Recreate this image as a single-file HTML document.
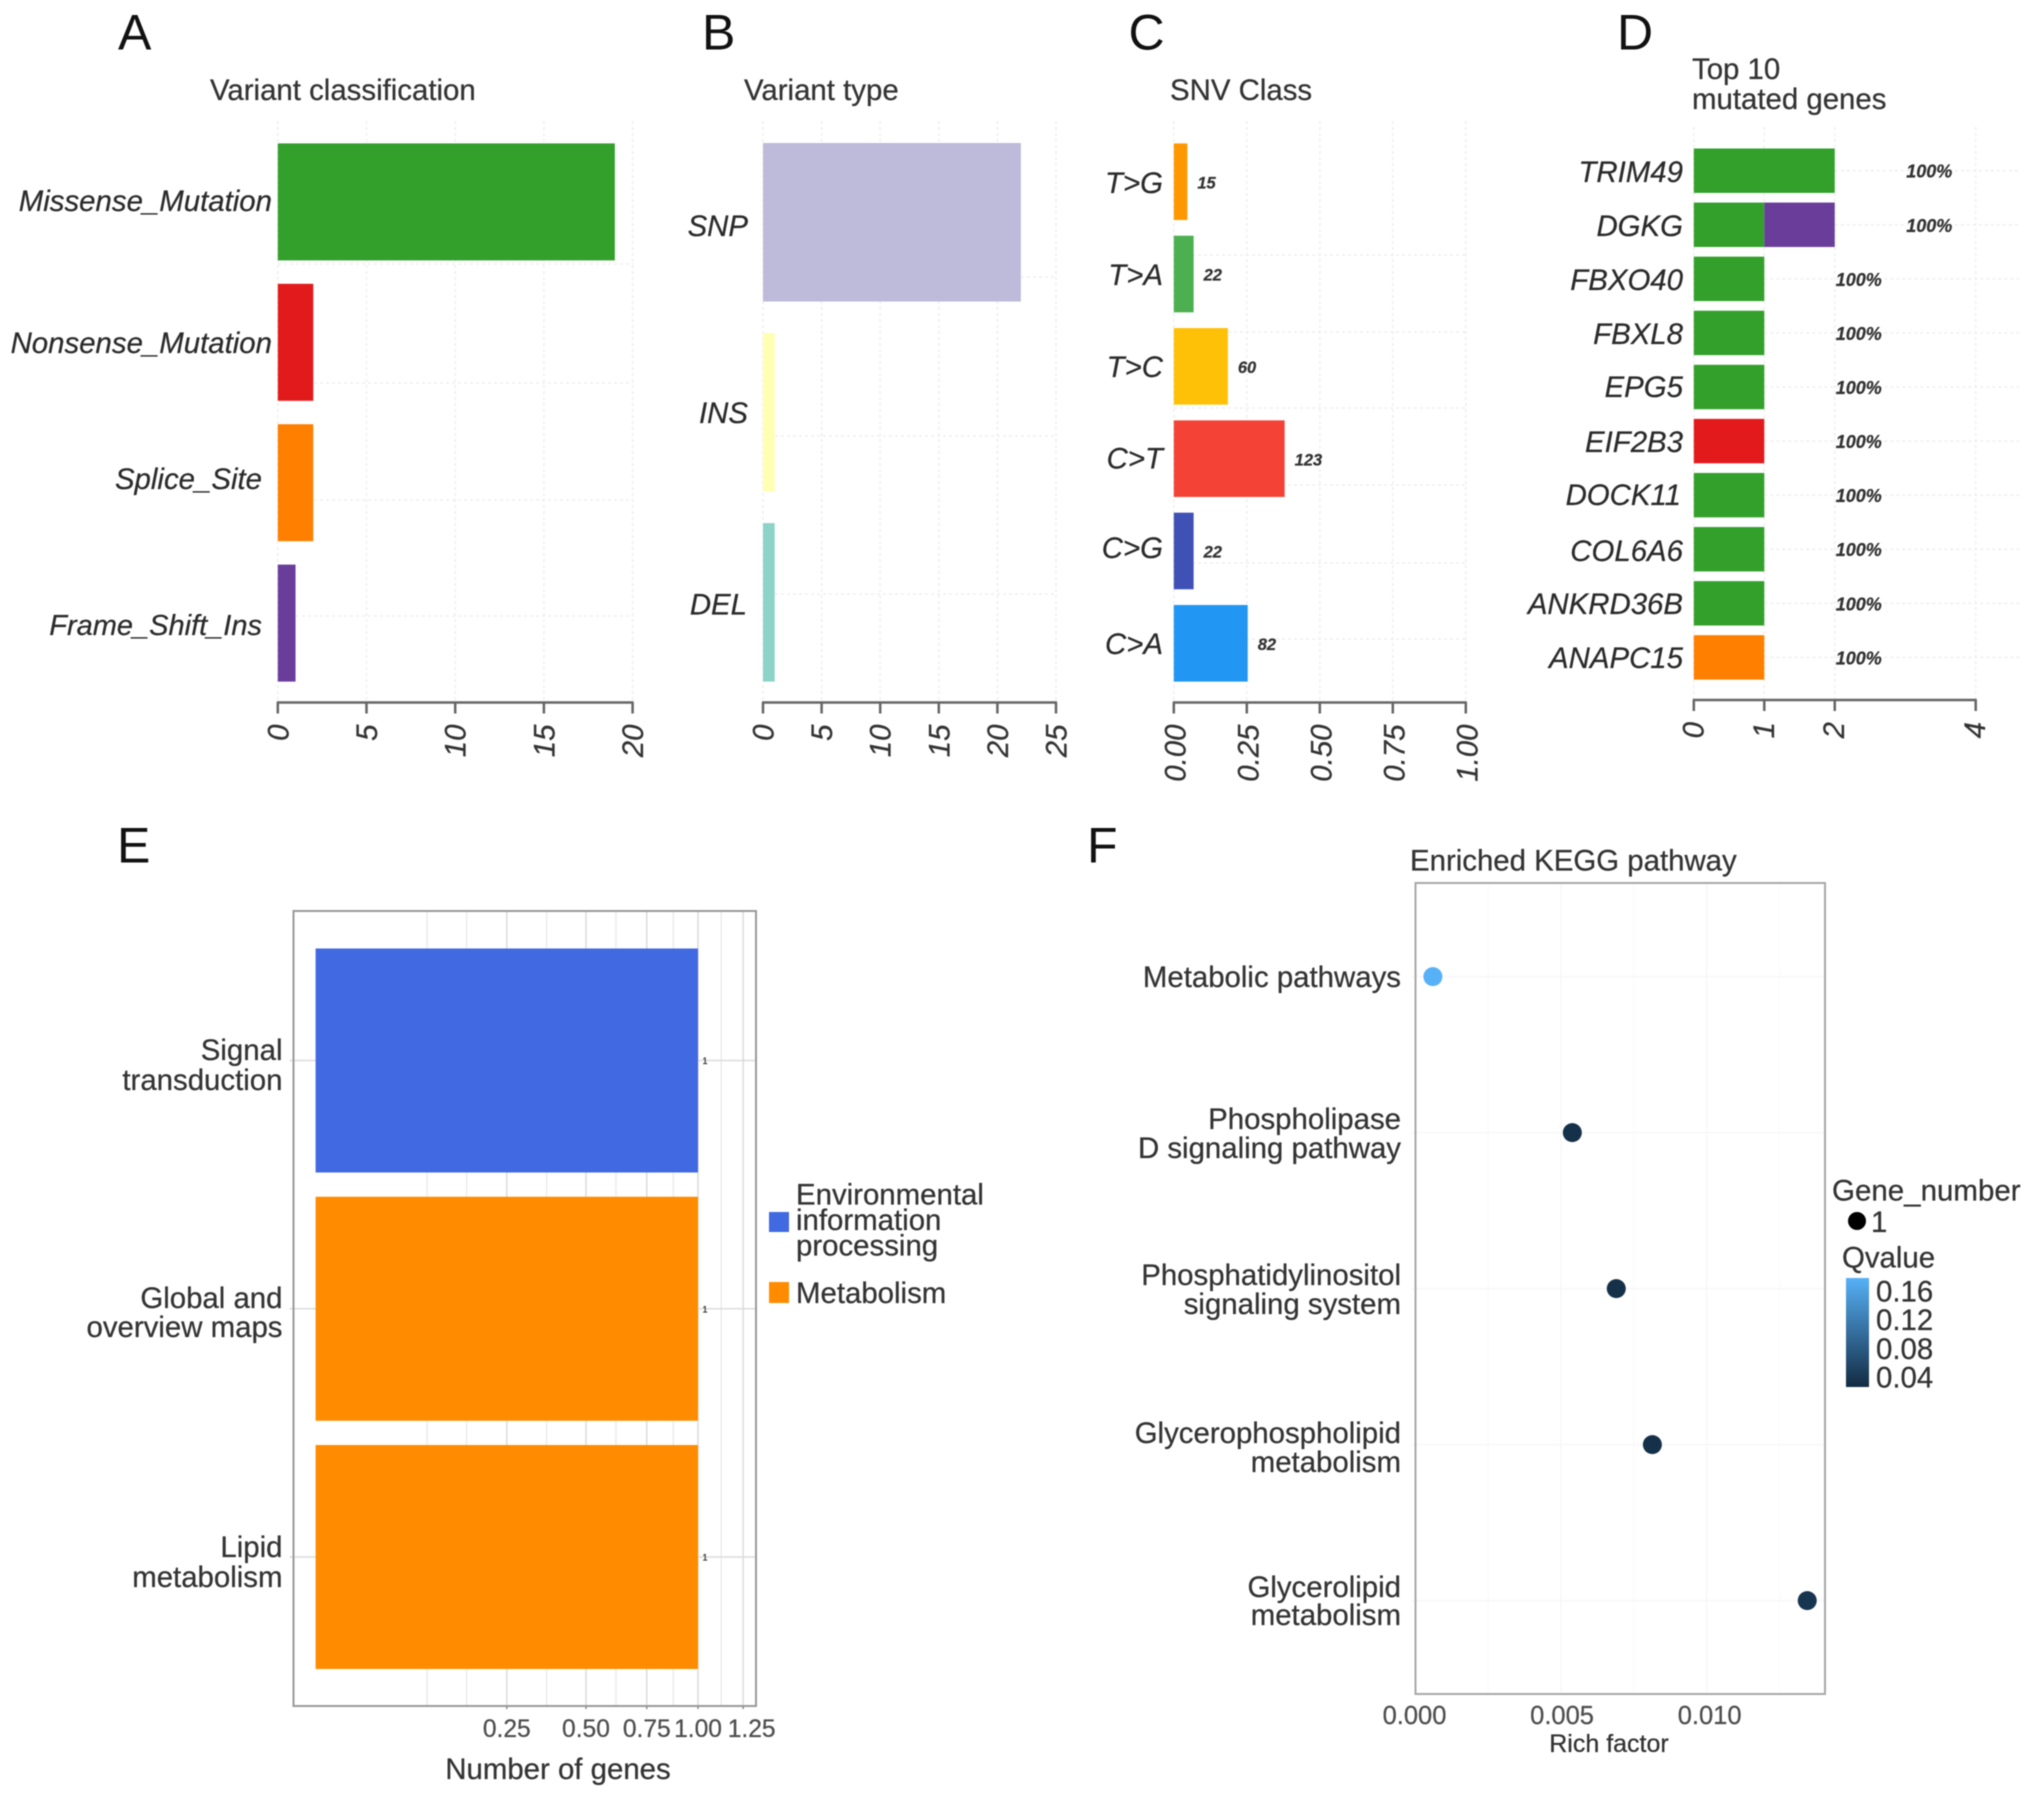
<!DOCTYPE html>
<html lang="en">
<head>
<meta charset="utf-8">
<title>Mutation summary and pathway enrichment figure</title>
<style>
  html, body { margin: 0; padding: 0; background: #fff; }
  svg { display: block; font-family: "Liberation Sans", Arial, sans-serif; filter: blur(0.5px); }
  text { fill: #333; font-size: 29.4px; stroke: #333; stroke-width: 0.25px; }
  .cat { font-style: italic; text-anchor: end; fill: #2a2a2a; }
  .rt { text-anchor: end; }
  .letter { font-size: 50px; fill: #111; stroke-width: 0; }
  .tick { font-size: 24.6px; fill: #4d4d4d; stroke: #4d4d4d; text-anchor: middle; }
  .tick-wide { font-size: 25.5px; }
  .grid { stroke: #efefef; stroke-width: 1.5; stroke-dasharray: 3 3; fill: none; }
</style>
</head>
<body>
<svg id="figure" xmlns="http://www.w3.org/2000/svg" width="2032" height="1798" viewBox="0 0 2032 1798">
  <defs>
    <linearGradient id="qvalue-gradient" x1="0" y1="1" x2="0" y2="0">
      <stop offset="0" stop-color="#132B43"/>
      <stop offset="1" stop-color="#56B1F7"/>
    </linearGradient>
  </defs>
  <rect width="2032" height="1798" fill="#fff"/>

  <!-- panel letters -->
  <text class="letter" x="118" y="49.5">A</text>
  <text class="letter" x="702" y="49.5">B</text>
  <text class="letter" x="1128.5" y="49.5">C</text>
  <text class="letter" x="1617" y="49.5">D</text>
  <text class="letter" x="117" y="862.5">E</text>
  <text class="letter" x="1087" y="862.5">F</text>

  <!-- panel titles -->
  <text x="210" y="100">Variant classification</text>
  <text x="744" y="100">Variant type</text>
  <text x="1170" y="100">SNV Class</text>
  <text x="1692" y="79">Top 10</text>
  <text x="1692" y="109">mutated genes</text>
  <text x="1410" y="870.5">Enriched KEGG pathway</text>

  <!-- reference lines that sit between bars in the composed panels -->
  <g>
    <line class="grid" x1="278" x2="633" y1="264" y2="264"/>
    <line class="grid" x1="278" x2="633" y1="383" y2="383"/>
    <line class="grid" x1="278" x2="633" y1="500" y2="500"/>
    <line class="grid" x1="278" x2="633" y1="616" y2="616"/>
  </g>
  <g>
    <line class="grid" x1="763" x2="1056" y1="277" y2="277"/>
    <line class="grid" x1="763" x2="1056" y1="436" y2="436"/>
    <line class="grid" x1="763" x2="1056" y1="594" y2="594"/>
  </g>
  <g>
    <line class="grid" x1="1174" x2="1466" y1="255" y2="255"/>
    <line class="grid" x1="1174" x2="1466" y1="332" y2="332"/>
    <line class="grid" x1="1174" x2="1466" y1="408" y2="408"/>
    <line class="grid" x1="1174" x2="1466" y1="485" y2="485"/>
    <line class="grid" x1="1174" x2="1466" y1="563" y2="563"/>
    <line class="grid" x1="1174" x2="1466" y1="639" y2="639"/>
  </g>

  <g id="marks"></g>

  <!-- panel A category labels -->
  <text class="cat" x="272" y="211">Missense_Mutation</text>
  <text class="cat" x="272" y="353">Nonsense_Mutation</text>
  <text class="cat" x="262" y="489">Splice_Site</text>
  <text class="cat" x="262" y="635" style="font-size:29px">Frame_Shift_Ins</text>

  <!-- panel B category labels -->
  <text class="cat" x="748" y="236">SNP</text>
  <text class="cat" x="748" y="423">INS</text>
  <text class="cat" x="747" y="614.5">DEL</text>

  <!-- panel C category labels -->
  <text class="cat" x="1163" y="193">T&gt;G</text>
  <text class="cat" x="1163" y="285">T&gt;A</text>
  <text class="cat" x="1163" y="377">T&gt;C</text>
  <text class="cat" x="1163" y="468.5">C&gt;T</text>
  <text class="cat" x="1163" y="558">C&gt;G</text>
  <text class="cat" x="1163" y="654">C&gt;A</text>

  <!-- panel D gene labels -->
  <text class="cat" x="1683" y="182">TRIM49</text>
  <text class="cat" x="1683" y="236">DGKG</text>
  <text class="cat" x="1683" y="290">FBXO40</text>
  <text class="cat" x="1683" y="344">FBXL8</text>
  <text class="cat" x="1683" y="397">EPG5</text>
  <text class="cat" x="1683" y="452">EIF2B3</text>
  <text class="cat" x="1681" y="505">DOCK11</text>
  <text class="cat" x="1683" y="561">COL6A6</text>
  <text class="cat" x="1683" y="614">ANKRD36B</text>
  <text class="cat" x="1683" y="668">ANAPC15</text>

  <!-- panel E labels -->
  <text class="rt" x="282.5" y="1060">Signal</text>
  <text class="rt" x="282.5" y="1090">transduction</text>
  <text class="rt" x="282.5" y="1308">Global and</text>
  <text class="rt" x="282.5" y="1337">overview maps</text>
  <text class="rt" x="282.5" y="1557">Lipid</text>
  <text class="rt" x="282.5" y="1587">metabolism</text>
  <text x="558" y="1779" text-anchor="middle">Number of genes</text>

  <!-- panel E legend -->
  <rect x="769" y="1212" width="20" height="20" fill="#4169E1"/>
  <text x="796" y="1204.5">Environmental</text>
  <text x="796" y="1230">information</text>
  <text x="796" y="1255.5">processing</text>
  <rect x="769" y="1282" width="20" height="21" fill="#FF8C00"/>
  <text x="796" y="1303">Metabolism</text>

  <!-- panel F labels -->
  <text class="rt" x="1401" y="987">Metabolic pathways</text>
  <text class="rt" x="1401" y="1129">Phospholipase</text>
  <text class="rt" x="1401" y="1158">D signaling pathway</text>
  <text class="rt" x="1401" y="1285">Phosphatidylinositol</text>
  <text class="rt" x="1401" y="1314">signaling system</text>
  <text class="rt" x="1401" y="1443">Glycerophospholipid</text>
  <text class="rt" x="1401" y="1472">metabolism</text>
  <text class="rt" x="1401" y="1597">Glycerolipid</text>
  <text class="rt" x="1401" y="1625">metabolism</text>
  <text x="1609" y="1752" text-anchor="middle" style="font-size:25px">Rich factor</text>

  <!-- panel F legends -->
  <text x="1832" y="1200.5" style="font-size:29.5px">Gene_number</text>
  <circle cx="1857" cy="1221" r="9" fill="#000"/>
  <text x="1871" y="1232">1</text>
  <text x="1842" y="1267.5">Qvalue</text>
  <rect x="1846" y="1278" width="23" height="109" fill="url(#qvalue-gradient)"/>
</svg>

<script>
// Panel A: variant classification
const variantClassCategories = ['Missense_Mutation', 'Nonsense_Mutation', 'Splice_Site', 'Frame_Shift_Ins'];
const variantClassCounts = [19, 2, 2, 1];
const variantClassTicks = [0, 5, 10, 15, 20];
const variantClassColors = ['#33A02C', '#E31A1C', '#FF7F00', '#6A3D9A'];

// Panel B: variant type
const variantTypeCategories = ['SNP', 'INS', 'DEL'];
const variantTypeCounts = [22, 1, 1];
const variantTypeTicks = [0, 5, 10, 15, 20, 25];
const variantTypeColors = ['#BEBADA', '#FFFFB3', '#8DD3C7'];

// Panel C: SNV class
const snvCategories = ['T>G', 'T>A', 'T>C', 'C>T', 'C>G', 'C>A'];
const snvCounts = [15, 22, 60, 123, 22, 82];
const snvFractions = [0.0463, 0.0679, 0.1852, 0.3796, 0.0679, 0.2531];
const snvTicks = [0, 0.25, 0.5, 0.75, 1];
const snvTickLabels = ['0.00', '0.25', '0.50', '0.75', '1.00'];
const snvColors = ['#FF9800', '#4CAF50', '#FFC107', '#F44336', '#3F51B5', '#2196F3'];

// Panel D: top mutated genes
const geneNames = ['TRIM49', 'DGKG', 'FBXO40', 'FBXL8', 'EPG5', 'EIF2B3', 'DOCK11', 'COL6A6', 'ANKRD36B', 'ANAPC15'];
const geneMissense = [2, 1, 1, 1, 1, 0, 1, 1, 1, 0];
const geneFrameShift = [0, 1, 0, 0, 0, 0, 0, 0, 0, 0];
const geneNonsense = [0, 0, 0, 0, 0, 1, 0, 0, 0, 0];
const geneSplice = [0, 0, 0, 0, 0, 0, 0, 0, 0, 1];
const genePercentLabels = ['100%', '100%', '100%', '100%', '100%', '100%', '100%', '100%', '100%', '100%'];
const geneTicks = [0, 1, 2, 4];

// Panel E: KEGG classification
const keggClassCategories = ['Signal transduction', 'Global and overview maps', 'Lipid metabolism'];
const keggClassGenes = [1, 1, 1];
const keggClassGroups = ['Environmental information processing', 'Metabolism', 'Metabolism'];
const keggClassTicks = [0.25, 0.5, 0.75, 1, 1.25];
const keggClassTickLabels = ['0.25', '0.50', '0.75', '1.00', '1.25'];
const keggClassMinorTicks = [0.085, 0.156, 0.365, 0.617, 0.875, 1.125];

// Panel F: enriched pathways
const enrichedPathways = ['Metabolic pathways', 'Phospholipase D signaling pathway', 'Phosphatidylinositol signaling system', 'Glycerophospholipid metabolism', 'Glycerolipid metabolism'];
const richFactors = [0.00058, 0.00537, 0.00688, 0.00812, 0.01344];
const qValues = [0.17, 0.035, 0.035, 0.035, 0.04];
const richTicks = [0, 0.005, 0.01];
const richTickLabels = ['0.000', '0.005', '0.010'];
const richMinorTicks = [0.0025, 0.0075, 0.0125];
const qLegendTicks = [0.16, 0.12, 0.08, 0.04];
const qLegendLabels = ['0.16', '0.12', '0.08', '0.04'];

const SVG_NS = 'http://www.w3.org/2000/svg';
const marksLayer = document.getElementById('marks');

function shape(tag, attrs) {
  const node = document.createElementNS(SVG_NS, tag);
  for (const key in attrs) node.setAttribute(key, attrs[key]);
  marksLayer.appendChild(node);
  return node;
}

function linearScale(d0, d1, r0, r1) {
  return v => r0 + (v - d0) / (d1 - d0) * (r1 - r0);
}

function bandScale(n, top, bottom, barHeight) {
  const step = n > 1 ? (bottom - top - barHeight) / (n - 1) : 0;
  return i => top + i * step;
}

// Vertical dashed gridlines plus an axis line with rotated tick labels
function drawRotatedAxis(x, ticks, labels, gridTop, axisY, labelShift) {
  ticks.forEach((t, i) => {
    const gridLine = shape('line', { x1: x(t), x2: x(t), y1: gridTop, y2: axisY, class: 'grid' });
    
    

    const tickMark = shape('line', { x1: x(t), x2: x(t), y1: axisY, y2: axisY + 11, stroke: '#666', 'stroke-width': 2.5 });
    
    

    const label = shape('text', { 'text-anchor': 'middle', 'dominant-baseline': 'central', 'font-style': 'italic' });
    
    
    label.textContent = labels[i];
    const half = label.getComputedTextLength() / 2;
    const cx = x(t) + labelShift;
    const cy = axisY + 22 + half;
    label.setAttribute('x', cx);
    label.setAttribute('y', cy);
    label.setAttribute('transform', 'rotate(-90 ' + cx + ' ' + cy + ')');
  });
  const axisLine = shape('line', { x1: x(ticks[0]) - 1, x2: x(ticks[ticks.length - 1]) + 1, y1: axisY, y2: axisY, stroke: '#666', 'stroke-width': 2.5 });
  
  
}

// Panel A
const xA = linearScale(0, 20, 277.8, 632.6);
const yA = bandScale(variantClassCounts.length, 143.4, 681.6, 117);
drawRotatedAxis(xA, variantClassTicks, variantClassTicks.map(String), 121, 702.5, 1);
variantClassCounts.forEach((v, i) => {
  const bar = shape('rect', { x: xA(0), y: yA(i), width: xA(v) - xA(0), height: 117, fill: variantClassColors[i] });
  
  
});

// Panel B
const xB = linearScale(0, 25, 763, 1056);
const yB = bandScale(variantTypeCounts.length, 143, 681.6, 158.5);
drawRotatedAxis(xB, variantTypeTicks, variantTypeTicks.map(String), 121, 702.5, 1);
variantTypeCounts.forEach((v, i) => {
  const bar = shape('rect', { x: xB(0), y: yB(i), width: xB(v) - xB(0), height: 158.5, fill: variantTypeColors[i] });
  
  
});

// Panel C
const xC = linearScale(0, 1, 1173.8, 1465.8);
const yC = bandScale(snvFractions.length, 143.4, 681.6, 76.6);
drawRotatedAxis(xC, snvTicks, snvTickLabels, 121, 702.5, 2);
snvFractions.forEach((v, i) => {
  const bar = shape('rect', { x: xC(0), y: yC(i), width: xC(v) - xC(0), height: 76.6, fill: snvColors[i] });
  
  

  const valueLabel = shape('text', { x: xC(v) + 10, y: yC(i) + 45, 'font-style': 'italic', 'font-weight': 'bold', style: 'font-size:16.5px' });
  
  
  valueLabel.textContent = snvCounts[i];
});

// Panel D
const xD = linearScale(0, 4, 1693.8, 1975.7);
const yD = bandScale(geneNames.length, 148.5, 679.6, 44.4);
drawRotatedAxis(xD, geneTicks, geneTicks.map(String), 127, 700, 0);
geneNames.forEach((name, i) => {
  const total = geneMissense[i] + geneFrameShift[i] + geneNonsense[i] + geneSplice[i];
  const centerY = yD(i) + 22.2;

  const rowLine = shape('line', { x1: xD(total), x2: 2020, y1: centerY, y2: centerY, class: 'grid' });
  
  

  let start = 0;
  [[geneMissense, '#33A02C'], [geneFrameShift, '#6A3D9A'], [geneNonsense, '#E31A1C'], [geneSplice, '#FF7F00']].forEach(pair => {
    const v = pair[0][i];
    if (!v) return;
    const segment = shape('rect', { x: xD(start), y: yD(i), width: xD(start + v) - xD(start), height: 44.4, fill: pair[1] });
    
    
    start += v;
  });

  const pct = shape('text', { x: xD(total + 1) + 1, y: centerY + 7, 'font-style': 'italic', 'font-weight': 'bold', style: 'font-size:18px' });
  
  
  pct.textContent = genePercentLabels[i];
});

// Panel E
const xE = v => 315.6 + Math.sqrt(v) * 382.4;
const yE = bandScale(keggClassGenes.length, 948.5, 1669, 224);
const frameE = { x: 293.5, y: 911, width: 462.5, height: 795 };
keggClassMinorTicks.forEach(t => {
  const minorLine = shape('line', { x1: xE(t), x2: xE(t), y1: frameE.y, y2: frameE.y + frameE.height, stroke: '#ececec', 'stroke-width': 1.5 });
  
  
});
keggClassTicks.forEach((t, i) => {
  const majorLine = shape('line', { x1: xE(t), x2: xE(t), y1: frameE.y, y2: frameE.y + frameE.height, stroke: '#dcdcdc', 'stroke-width': 1.5 });
  
  

  const tickMark = shape('line', { x1: xE(t), x2: xE(t), y1: frameE.y + frameE.height, y2: frameE.y + frameE.height + 3, stroke: '#888', 'stroke-width': 1.5 });
  
  

  const labelShift = i === keggClassTicks.length - 1 ? 8.5 : 0;
  const label = shape('text', { x: xE(t) + labelShift, y: 1737, class: 'tick' });
  
  
  label.textContent = keggClassTickLabels[i];
});
keggClassGenes.forEach((v, i) => {
  const centerY = yE(i) + 112;

  const rowLine = shape('line', { x1: frameE.x - 4, x2: frameE.x + frameE.width, y1: centerY, y2: centerY, stroke: '#dcdcdc', 'stroke-width': 1.5 });
  
  

  const bar = shape('rect', { x: xE(0), y: yE(i), width: xE(v) - xE(0), height: 224, fill: keggClassGroups[i] === 'Metabolism' ? '#FF8C00' : '#4169E1' });
  
  

  const valueLabel = shape('text', { x: xE(v) + 7, y: centerY + 3.5, 'text-anchor': 'middle', style: 'font-size:9px' });
  
  
  valueLabel.textContent = v;
});
const panelEFrame = shape('rect', { x: frameE.x, y: frameE.y, width: frameE.width, height: frameE.height, fill: 'none', stroke: '#9a9a9a', 'stroke-width': 2 });



// Panel F
const xF = linearScale(0, 0.01, 1415.5, 1706.6);
const yF = i => 976.6 + i * 156;
const qColor = (() => {
  const low = [19, 43, 67];
  const high = [86, 177, 247];
  return q => {
    const t = Math.max(0, Math.min(1, (q - 0.03) / 0.14));
    return 'rgb(' + low.map((c, k) => Math.round(c + (high[k] - c) * t)).join(',') + ')';
  };
})();
const frameF = { x: 1415.5, y: 883, width: 409.5, height: 811 };
richMinorTicks.forEach(t => {
  const minorLine = shape('line', { x1: xF(t), x2: xF(t), y1: frameF.y, y2: frameF.y + frameF.height, stroke: '#fbfbfb', 'stroke-width': 1.5 });
  
  
});
richTicks.forEach((t, i) => {
  const majorLine = shape('line', { x1: xF(t), x2: xF(t), y1: frameF.y, y2: frameF.y + frameF.height, stroke: '#f7f7f7', 'stroke-width': 1.5 });
  
  

  const label = shape('text', { x: xF(t) - 1 + i * 2, y: 1724, class: 'tick tick-wide' });
  
  
  label.textContent = richTickLabels[i];
});
richFactors.forEach((v, i) => {
  const rowLine = shape('line', { x1: frameF.x - 4, x2: frameF.x + frameF.width, y1: yF(i), y2: yF(i), stroke: '#f7f7f7', 'stroke-width': 1.5 });
  
  

  const point = shape('circle', { cx: xF(v) + 0.5, cy: yF(i), r: 9.5, fill: qColor(qValues[i]) });
  
  
});
const panelFFrame = shape('rect', { x: frameF.x, y: frameF.y, width: frameF.width, height: frameF.height, fill: 'none', stroke: '#a8a8a8', 'stroke-width': 2 });



const yQ = linearScale(0.04, 0.16, 1387, 1301);
qLegendTicks.forEach((q, i) => {
  const label = shape('text', { x: 1876, y: yQ(q) + 0.5 });
  
  
  label.textContent = qLegendLabels[i];
});
</script>
</body>
</html>
